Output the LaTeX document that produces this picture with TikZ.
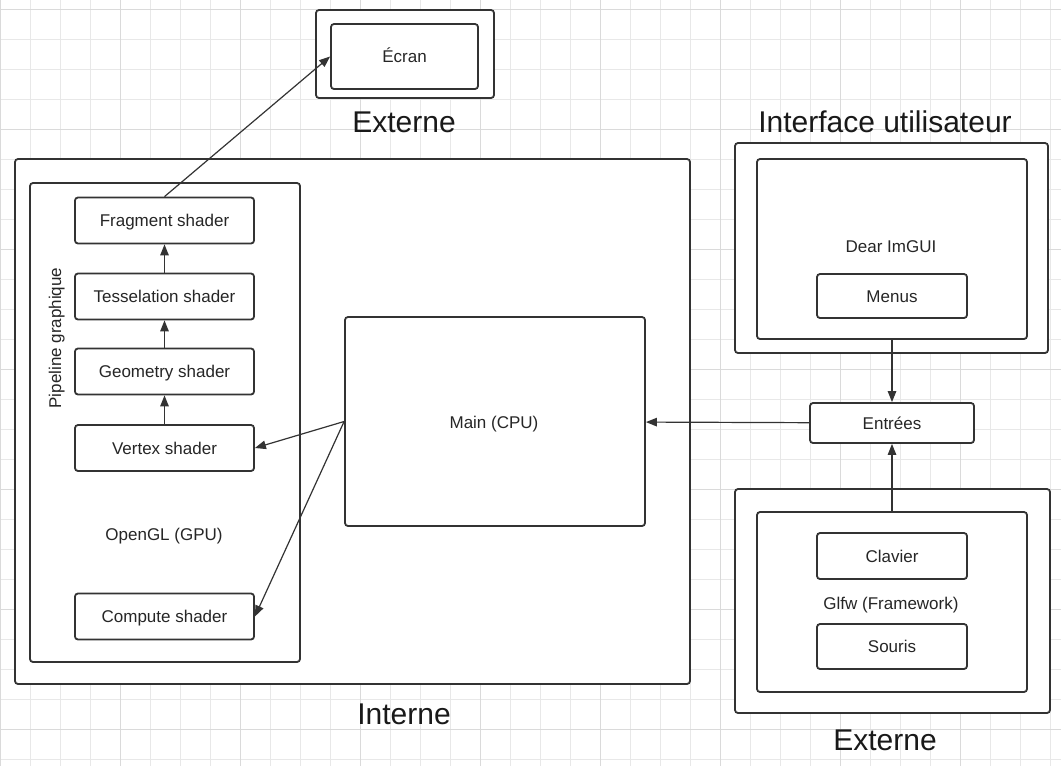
\documentclass[tikz,border=0pt]{standalone}
\usepackage{fontspec}
\setmainfont{Liberation Sans}
\usetikzlibrary{positioning,arrows.meta}
\definecolor{trait}{HTML}{333333}
\definecolor{grille}{HTML}{E8E8E8}
\definecolor{grillefort}{HTML}{DADADA}
\tikzset{
  boite/.style={draw=trait, line width=1.8pt, rounded corners=3pt, fill=white, inner sep=0pt,
    text height=12pt, text depth=0pt, text=black!85},
  shader/.style={boite, minimum width=179pt, minimum height=46pt, font=\fontsize{17}{20}\selectfont},
  petit/.style={boite, minimum width=150pt, minimum height=45pt, font=\fontsize{17}{20}\selectfont},
  titre/.style={font=\fontsize{30}{36}\selectfont, text=black!90, text height=21.5pt, text depth=0pt, inner sep=0pt},
  texte/.style={font=\fontsize{17}{20}\selectfont, text=black!85, text height=12pt, text depth=0pt, inner sep=0pt},
  fleche/.style={-{Triangle[length=11pt,width=8.5pt]}, draw=trait, line width=1.2pt},
}
\begin{document}
\begin{tikzpicture}[x=1pt, y=-1pt]
  \useasboundingbox (0,0) rectangle (1061,766);
  % grille de fond
  \foreach \gx in {0,...,35} {\draw[grille, line width=0.8pt] (0.7+30*\gx,0) -- (0.7+30*\gx,766);}
  \foreach \gy in {0,...,25} {\draw[grille, line width=0.8pt] (0,9.3+30*\gy) -- (1061,9.3+30*\gy);}
  \foreach \gx in {0,...,8} {\draw[grillefort, line width=0.8pt] (0.7+120*\gx,0) -- (0.7+120*\gx,766);}
  \foreach \gy in {0,...,6} {\draw[grillefort, line width=0.8pt] (0,9.3+120*\gy) -- (1061,9.3+120*\gy);}

  % externe (ecran)
  \node[boite, minimum width=178pt, minimum height=88pt] (ecranext) at (405,54) {};
  \node[boite, minimum width=147pt, minimum height=65pt, font=\fontsize{17}{20}\selectfont] (ecran) at (404.5,56.5) {Écran};
  \node[titre] (lblexthaut) at (404,122) {Externe};

  % interne
  \node[boite, minimum width=675pt, minimum height=525pt] (interne) at (352.5,421.5) {};
  \node[titre] (lblinterne) at (404,714) {Interne};
  \node[boite, minimum width=270pt, minimum height=479pt] (pipeline) at (165,422.5) {};
  \node[texte, rotate=90] (lblpipeline) at (55,338) {Pipeline graphique};
  \node[shader] (frag) at (164.5,220.5) {Fragment shader};
  \node[shader] (tess) at (164.5,296.5) {Tesselation shader};
  \node[shader] (geom) at (164.5,371.5) {Geometry shader};
  \node[shader] (vert) at (164.5,448) {Vertex shader};
  \node[texte] (lblopengl) at (164,534) {OpenGL (GPU)};
  \node[shader] (compute) at (164.5,616.5) {Compute shader};
  \node[boite, minimum width=300pt, minimum height=209pt] (main) at (495,421.5) {};
  \node[texte] (lblmain) at (494,422) {Main (CPU)};

  % interface utilisateur
  \node[titre] (lblui) at (885,122) {Interface utilisateur};
  \node[boite, minimum width=313pt, minimum height=210pt] (uiext) at (891.5,248) {};
  \node[boite, minimum width=270pt, minimum height=180pt] (imgui) at (892,249) {};
  \node[texte] (lblimgui) at (891,246) {Dear ImGUI};
  \node[petit, minimum height=44pt] (menus) at (892,296) {Menus};

  \node[boite, minimum width=164pt, minimum height=40pt, font=\fontsize{17}{20}\selectfont] (entrees) at (892,423) {Entrées};

  % externe (glfw)
  \node[boite, minimum width=315pt, minimum height=224pt] (glfwext) at (892.5,601) {};
  \node[boite, minimum width=270pt, minimum height=180pt] (glfw) at (892,602) {};
  \node[petit, minimum height=46pt] (clavier) at (892,556) {Clavier};
  \node[texte] (lblglfw) at (891,603) {Glfw (Framework)};
  \node[petit] (souris) at (892,646.5) {Souris};
  \node[titre] (lblextbas) at (885,740) {Externe};

  % fleches
  \draw[fleche] (frag.north) -- (ecran.west);
  \draw[fleche] (tess) -- (frag);
  \draw[fleche] (geom) -- (tess);
  \draw[fleche] (vert) -- (geom);
  \draw[fleche] (main.west) -- (vert.east);
  \draw[fleche] (main.west) -- (compute.east);
  \draw[fleche] (entrees) -- (main);
  \draw[fleche] (imgui) -- (entrees);
  \draw[fleche] (glfw) -- (entrees);
\end{tikzpicture}
\end{document}
